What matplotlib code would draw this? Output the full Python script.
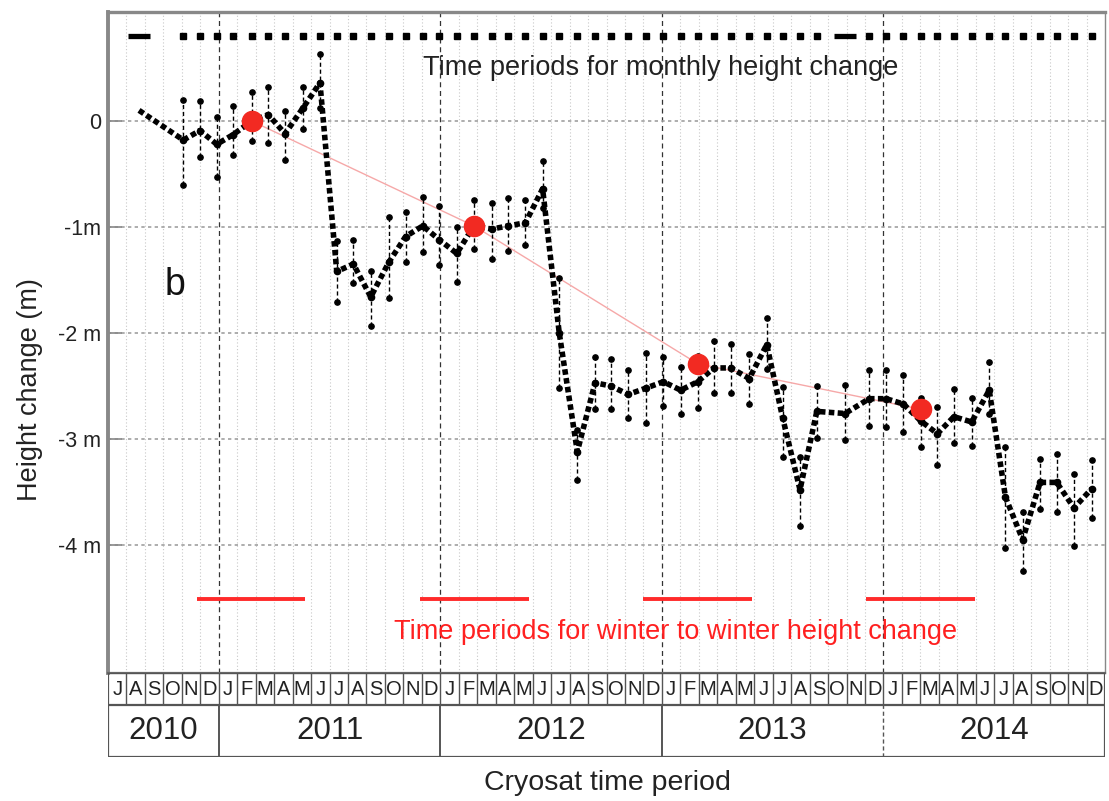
import matplotlib.pyplot as plt
import numpy as np

plt.rcParams['font.family'] = ['Liberation Sans', 'DejaVu Sans']

# time axis: months since 1 Jul 2010 (0 = start of Jul 2010, 54 = end of Dec 2014)
t_month = [1.68, 4.08, 4.98, 5.89, 6.77, 7.78, 8.68, 9.59, 10.55, 11.48,
           12.39, 13.29, 14.23, 15.22, 16.12, 17.05, 17.94, 18.89, 19.82, 20.78,
           21.68, 22.61, 23.54, 24.44, 25.42, 26.38, 27.23, 28.18, 29.14, 30.08,
           31.02, 31.94, 32.82, 33.74, 34.73, 35.68, 36.54, 37.48, 38.39, 39.92,
           41.23, 42.14, 43.08, 44.02, 44.92, 45.82, 46.78, 47.73, 48.61, 49.54,
           50.48, 51.38, 52.32, 53.28]
height = [0.10, -0.18, -0.09, -0.22, -0.13, 0.00, 0.06, -0.12, 0.12, 0.36,
          -1.42, -1.35, -1.66, -1.33, -1.09, -0.99, -1.12, -1.25, -0.99, -1.02,
          -0.99, -0.96, -0.64, -2.00, -3.12, -2.47, -2.50, -2.58, -2.52, -2.46,
          -2.54, -2.46, -2.33, -2.33, -2.43, -2.11, -2.80, -3.48, -2.74, -2.76,
          -2.62, -2.62, -2.67, -2.83, -2.95, -2.79, -2.84, -2.54, -3.55, -3.95,
          -3.41, -3.41, -3.65, -3.47]
err_hi = [np.nan, 0.20, 0.19, 0.04, 0.14, 0.27, 0.32, 0.09, 0.32, 0.63,
          -1.13, -1.12, -1.42, -0.91, -0.86, -0.72, -0.80, -1.00, -0.75, -0.77,
          -0.73, -0.75, -0.38, -1.48, -2.92, -2.23, -2.25, -2.35, -2.19, -2.23,
          -2.32, -2.22, -2.08, -2.10, -2.20, -1.86, -2.51, -3.17, -2.50, -2.49,
          -2.35, -2.35, -2.40, -2.61, -2.70, -2.53, -2.61, -2.27, -3.08, -3.69,
          -3.19, -3.14, -3.33, -3.20]
err_lo = [np.nan, -0.60, -0.34, -0.53, -0.32, -0.19, -0.21, -0.37, -0.08, 0.12,
          -1.71, -1.53, -1.93, -1.67, -1.33, -1.24, -1.36, -1.52, -1.21, -1.30,
          -1.23, -1.17, -0.82, -2.52, -3.39, -2.72, -2.72, -2.80, -2.85, -2.69,
          -2.76, -2.71, -2.57, -2.57, -2.67, -2.34, -3.17, -3.82, -2.99, -3.01,
          -2.88, -2.89, -2.93, -3.08, -3.25, -3.04, -3.07, -2.76, -4.03, -4.25,
          -3.66, -3.69, -4.01, -3.75]
long_periods = [0, 39]

winter_t = [7.78, 19.82, 31.94, 44.02]
winter_h = [0.0, -0.99, -2.29, -2.72]
winter_start = [4.83, 16.90, 28.98, 41.06]
winter_end = [10.67, 22.80, 34.88, 46.96]

month_labels = list('JASOND') + list('JFMAMJJASOND') * 4
years = ['2010', '2011', '2012', '2013', '2014']
year_edges = [0, 6, 18, 30, 42, 54]
yticks = [0, -1, -2, -3, -4]
ytick_labels = ['0', '-1m', '-2 m', '-3 m', '-4 m']

W, H = 1109, 801
fig = plt.figure(figsize=(W / 100, H / 100), dpi=100)
ax = fig.add_axes([108 / W, 1 - 673 / H, 997 / W, 661 / H])
tab = fig.add_axes([108 / W, 1 - 757 / H, 997 / W, 84 / H])

ax.set_xlim(0, 54)
ax.set_ylim(-5.208, 1.028)

# grid
for m in range(1, 54):
    if m in year_edges:
        ax.axvline(m, color='#333333', lw=0.9, ls=(0, (4, 3)), zorder=1)
    else:
        ax.axvline(m, color='#c8c8c8', lw=0.8, ls=(0, (1, 2)), zorder=1)
for v in yticks:
    ax.axhline(v, color='#a0a0a0', lw=1.2, ls=(0, (2, 2)), zorder=1)

# winter-to-winter trend line
ax.plot(winter_t, winter_h, color='#f6a8a8', lw=1.0, zorder=2)

# error bars
t = np.array(t_month)
hi = np.array(err_hi)
lo = np.array(err_lo)
ok = ~np.isnan(hi)
ax.vlines(t[ok], lo[ok], hi[ok], colors='k', lw=1.0, linestyles=(0, (3, 2)), zorder=3)
ax.plot(t[ok], hi[ok], 'o', color='k', ms=3.8, zorder=3)
ax.plot(t[ok], lo[ok], 'o', color='k', ms=3.8, zorder=3)

# monthly series
ax.plot(t_month, height, color='k', lw=4.0, ls=(0, (1, 0.6)), zorder=4)
ax.plot(t_month[1:], height[1:], 'o', color='k', ms=4.5, zorder=4)

# winter points
ax.plot(winter_t, winter_h, 'o', color='#f22a22', ms=14.5, zorder=5)

# time periods for monthly change (top row)
short = [i for i in range(len(t_month)) if i not in long_periods]
ax.plot(t[short], [0.8] * len(short), 's', color='k', ms=3.8)
ax.hlines([0.8] * len(long_periods), t[long_periods] - 0.6, t[long_periods] + 0.6,
          colors='k', lw=3.8)
ax.text(29.95, 0.50, 'Time periods for monthly height change', ha='center', va='center',
        fontsize=19.5, color='#222222')

# winter periods
ax.hlines([-4.51] * len(winter_start), winter_start, winter_end, colors='#ff2a2a', lw=2.8)
ax.text(30.74, -4.82, 'Time periods for winter to winter height change', ha='center',
        va='center', fontsize=19.5, color='#ff2020')

ax.text(3.63, -1.55, 'b', ha='center', va='center', fontsize=27, color='#111111')

ax.set_xticks([])
ax.set_yticks(yticks)
ax.set_yticklabels(ytick_labels)
ax.tick_params(axis='y', direction='in', length=10, width=1.2, color='#888888',
               labelsize=15.5, pad=5, labelcolor='#222222')
ax.spines['left'].set_linewidth(2.8)
ax.spines['left'].set_color('#888888')
ax.spines['top'].set_linewidth(2.4)
ax.spines['top'].set_color('#888888')
ax.spines['right'].set_linewidth(1.0)
ax.spines['right'].set_color('#888888')
ax.spines['bottom'].set_linewidth(1.6)
ax.spines['bottom'].set_color('#666666')

# month / year table
tab.set_xlim(0, 54)
tab.set_ylim(0, 1)
tab.axis('off')
row = 0.619
lc = '#555555'
tab.hlines([1, row, 0], 0, 54, colors=lc, lw=1.6)
tab.vlines([0, 54], 0, 1, colors=lc, lw=1.6)
tab.vlines([m for m in range(1, 54)], row, 1, colors=lc, lw=1.0)
for e in year_edges[1:-1]:
    if e == 42:
        tab.vlines(e, 0, row, colors=lc, lw=1.0, linestyles=(0, (3, 2)))
    else:
        tab.vlines(e, 0, row, colors=lc, lw=1.4)
for i, lab in enumerate(month_labels):
    tab.text(i + 0.5, (1 + row) / 2, lab, ha='center', va='center', fontsize=14.5,
             color='#222222')
for k, yr in enumerate(years):
    tab.text((year_edges[k] + year_edges[k + 1]) / 2, row / 2, yr, ha='center',
             va='center', fontsize=22.5, color='#222222')

fig.text(607 / W, 1 - 783 / H, 'Cryosat time period', ha='center', va='center',
         fontsize=20.5, color='#222222')
fig.text(30 / W, 1 - 390 / H, 'Height change (m)', ha='center', va='center',
         rotation=90, fontsize=19.5, color='#222222')

fig.savefig('out.png', dpi=100)
